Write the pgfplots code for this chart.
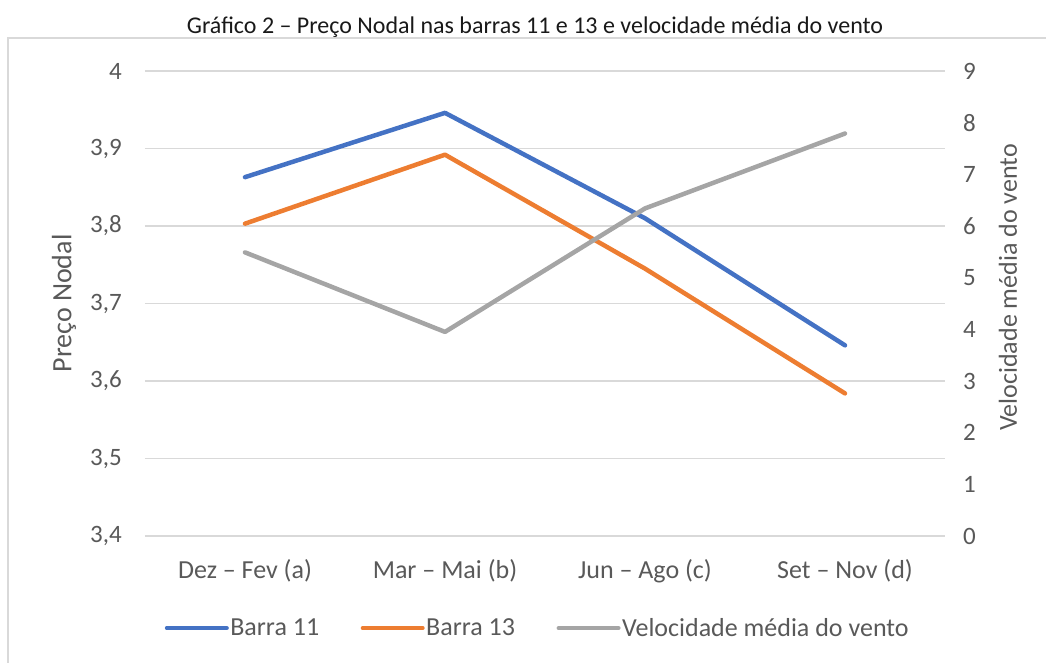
\documentclass[border=0pt]{standalone}
\usepackage{pgfplots}
\pgfplotsset{compat=1.18}
\usepackage{fontspec}
\setmainfont{Carlito}
\definecolor{b11}{HTML}{4472C4}
\definecolor{b13}{HTML}{ED7D31}
\definecolor{vel}{HTML}{A5A5A5}
\definecolor{txt}{HTML}{595959}
\definecolor{grd}{HTML}{D9D9D9}
\begin{document}
\begin{tikzpicture}[x=1pt,y=1pt]
\path[use as bounding box] (-145,-127) rectangle (901,536);
\draw[grd, line width=2pt] (-136.5,-127) -- (-136.5,497.5) -- (901,497.5);
\node[font=\fontsize{24}{28}\selectfont, text=black!90] at (390,509) {Gráfico 2 – Preço Nodal nas barras 11 e 13 e velocidade média do vento};
\begin{axis}[
  at={(0,0)}, anchor=south west, scale only axis,
  width=800pt, height=465pt,
  xmin=-0.5, xmax=3.5, ymin=3.4, ymax=4,
  xtick={0,1,2,3},
  xticklabels={Dez – Fev (a), Mar – Mai (b), Jun – Ago (c), Set – Nov (d)},
  ytick={3.4,3.5,3.6,3.7,3.8,3.9,4},
  ymajorgrids, grid style={grd, line width=1.5pt},
  axis line style={draw=none},
  major tick length=0pt,
  tick label style={text=txt, font=\fontsize{25}{30}\selectfont, inner sep=0pt},
  xticklabel style={anchor=base, yshift=-43pt, font=\fontsize{26}{30}\selectfont},
  yticklabel style={anchor=east, xshift=-23pt},
  /pgf/number format/.cd, use comma, fixed, precision=1, assume math mode=true,
  /pgfplots/.cd,
  legend columns=3,
  legend style={at={(0.4906,-0.198)}, anchor=center, draw=none, fill=none,
    font=\fontsize{26}{30}\selectfont, text=txt,
    /tikz/every even column/.append style={column sep=40pt},
    nodes={inner sep=1.5pt}},
  legend image code/.code={\draw[#1, line width=4pt, line cap=round] (0pt,0pt) -- (60pt,0pt);},
]
\addplot[b11, line width=4.5pt, line cap=round, line join=round] coordinates {(0,3.863) (1,3.946) (2,3.810) (3,3.646)};
\addlegendentry{Barra 11}
\addplot[b13, line width=4.5pt, line cap=round, line join=round] coordinates {(0,3.803) (1,3.892) (2,3.745) (3,3.584)};
\addlegendentry{Barra 13}
\addlegendimage{vel}
\addlegendentry{Velocidade média do vento}
\end{axis}
\begin{axis}[
  at={(0,0)}, anchor=south west, scale only axis,
  width=800pt, height=465pt,
  xmin=-0.5, xmax=3.5, ymin=0, ymax=9,
  axis y line*=right, axis x line=none,
  ytick={0,1,...,9},
  axis line style={draw=none},
  major tick length=0pt,
  tick label style={text=txt, font=\fontsize{25}{30}\selectfont, inner sep=0pt},
  yticklabel style={anchor=west, xshift=18pt},
  /pgf/number format/assume math mode=true,
]
\addplot[vel, line width=4.5pt, line cap=round, line join=round] coordinates {(0,5.49) (1,3.95) (2,6.34) (3,7.79)};
\end{axis}
\node[rotate=90, text=txt, font=\fontsize{28}{32}\selectfont] at (-81,232.5) {Preço Nodal};
\node[rotate=90, text=txt, font=\fontsize{26}{30}\selectfont] at (863,248.5) {Velocidade média do vento};
\end{tikzpicture}
\end{document}
